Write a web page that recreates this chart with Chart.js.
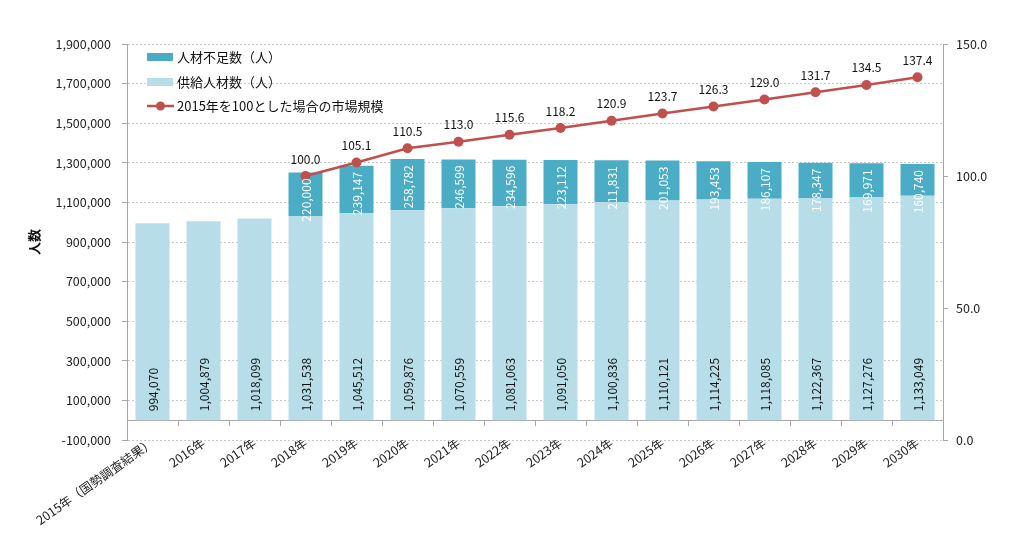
<!DOCTYPE html>
<html>
<head>
<meta charset="utf-8">
<script src="https://cdn.jsdelivr.net/npm/chart.js@4/dist/chart.umd.min.js"></script>
<style>
    html, body { margin: 0; background: #fff; }
    #wrap { width: 1024px; height: 534px; position: relative; }
</style>
</head>
<body>
<div id="wrap"><canvas id="chart"></canvas></div>
<script>
const years = ['2015年（国勢調査結果）', '2016年', '2017年', '2018年', '2019年', '2020年', '2021年', '2022年',
    '2023年', '2024年', '2025年', '2026年', '2027年', '2028年', '2029年', '2030年'];
const supply = [994070, 1004879, 1018099, 1031538, 1045512, 1059876, 1070559, 1081063,
    1091050, 1100836, 1110121, 1114225, 1118085, 1122367, 1127276, 1133049];
const shortage = [null, null, null, 220000, 239147, 258782, 246599, 234596,
    223112, 211831, 201053, 193453, 186107, 178347, 169971, 160740];
const marketIndex = [null, null, null, 100.0, 105.1, 110.5, 113.0, 115.6,
    118.2, 120.9, 123.7, 126.3, 129.0, 131.7, 134.5, 137.4];

const FONT = '"Noto Sans CJK JP", "Noto Sans", sans-serif';
const TEAL = '#4BACC6';
const LIGHT = '#B7DEE8';
const RED = '#C0504D';

const fmt = v => v.toLocaleString('en-US');

// value labels, zero line, category ticks, legend
const decorate = {
    id: 'decorate',
    beforeDatasetsDraw(chart) {
        const { ctx, chartArea, scales } = chart;
        const y0 = scales.y.getPixelForValue(0);
        const step = (chartArea.right - chartArea.left) / years.length;
        ctx.save();
        ctx.strokeStyle = '#a6a6a6';
        ctx.lineWidth = 1;
        ctx.beginPath();
        ctx.moveTo(chartArea.left, Math.round(y0) + 0.5);
        ctx.lineTo(chartArea.right, Math.round(y0) + 0.5);
        for (let k = 1; k < years.length; k++) {
            const x = Math.round(chartArea.left + k * step) + 0.5;
            ctx.moveTo(x, Math.round(y0));
            ctx.lineTo(x, Math.round(y0) + 6);
        }
        ctx.stroke();
        ctx.restore();
    },
    afterDatasetsDraw(chart) {
        const { ctx, chartArea } = chart;
        ctx.save();
        ctx.font = '12px ' + FONT;
        ctx.textBaseline = 'middle';

        const supMeta = chart.getDatasetMeta(0);
        supMeta.data.forEach((bar, i) => {
            ctx.save();
            ctx.translate(bar.x, bar.base - 9);
            ctx.rotate(-Math.PI / 2);
            ctx.fillStyle = '#111';
            ctx.textAlign = 'left';
            ctx.fillText(fmt(supply[i]), 0, 1);
            ctx.restore();
        });

        const shMeta = chart.getDatasetMeta(1);
        shMeta.data.forEach((bar, i) => {
            if (shortage[i] == null) return;
            ctx.save();
            ctx.translate(bar.x, bar.y + 6);
            ctx.rotate(-Math.PI / 2);
            ctx.fillStyle = '#fff';
            ctx.textAlign = 'right';
            ctx.fillText(fmt(shortage[i]), 0, 1);
            ctx.restore();
        });

        const lineMeta = chart.getDatasetMeta(2);
        ctx.fillStyle = '#111';
        ctx.textAlign = 'center';
        ctx.textBaseline = 'bottom';
        lineMeta.data.forEach((pt, i) => {
            if (marketIndex[i] == null) return;
            ctx.fillText(marketIndex[i].toFixed(1), pt.x, pt.y - 11);
        });

        // legend
        const lx = chartArea.left + 20;
        const rows = [chartArea.top + 13, chartArea.top + 38, chartArea.top + 62];
        ctx.font = '13px ' + FONT;
        ctx.textAlign = 'left';
        ctx.textBaseline = 'middle';
        ctx.fillStyle = TEAL;
        ctx.fillRect(lx, rows[0] - 4, 26, 8);
        ctx.fillStyle = LIGHT;
        ctx.fillRect(lx, rows[1] - 4, 26, 8);
        ctx.strokeStyle = RED;
        ctx.lineWidth = 2.5;
        ctx.beginPath();
        ctx.moveTo(lx, rows[2]);
        ctx.lineTo(lx + 27, rows[2]);
        ctx.stroke();
        ctx.fillStyle = RED;
        ctx.beginPath();
        ctx.arc(lx + 13.5, rows[2], 4.5, 0, Math.PI * 2);
        ctx.fill();
        ctx.fillStyle = '#111';
        ctx.fillText('人材不足数（人）', lx + 30, rows[0]);
        ctx.fillText('供給人材数（人）', lx + 30, rows[1]);
        ctx.fillText('2015年を100とした場合の市場規模', lx + 30, rows[2]);
        ctx.restore();
    }
};

new Chart(document.getElementById('chart'), {
    type: 'bar',
    data: {
        labels: years,
        datasets: [
            {
                label: '供給人材数（人）',
                data: supply,
                backgroundColor: LIGHT,
                stack: 's',
                order: 1,
                barPercentage: 0.667,
                categoryPercentage: 1
            },
            {
                label: '人材不足数（人）',
                data: shortage,
                backgroundColor: TEAL,
                stack: 's',
                order: 2,
                barPercentage: 0.667,
                categoryPercentage: 1
            },
            {
                type: 'line',
                label: '2015年を100とした場合の市場規模',
                data: marketIndex,
                yAxisID: 'y2',
                borderColor: RED,
                backgroundColor: RED,
                borderWidth: 2.5,
                pointRadius: 5,
                pointBackgroundColor: RED,
                pointBorderWidth: 0,
                order: 0
            }
        ]
    },
    options: {
        responsive: true,
        maintainAspectRatio: false,
        animation: false,
        layout: { padding: { top: 44, left: 0, right: 0, bottom: 0 } },
        plugins: {
            legend: { display: false },
            tooltip: { enabled: false }
        },
        scales: {
            x: {
                stacked: true,
                grid: { display: false },
                border: { display: false },
                ticks: {
                    font: { family: FONT, size: 12.5 },
                    color: '#222',
                    minRotation: 35,
                    maxRotation: 35,
                    autoSkip: false,
                    padding: -13
                },
                afterFit(scale) { scale.height = 94; }
            },
            y: {
                stacked: true,
                min: -100000,
                max: 1900000,
                ticks: {
                    stepSize: 200000,
                    font: { family: FONT, size: 12.5 },
                    color: '#222',
                    padding: 11,
                    callback: v => fmt(v)
                },
                grid: { color: '#c8c8c8', tickColor: '#a6a6a6', tickLength: 5 },
                border: { color: '#a6a6a6', dash: [2, 2] },
                title: {
                    display: true,
                    text: '人数',
                    font: { family: FONT, size: 13, weight: 'bold' },
                    color: '#111',
                    padding: { top: 26, bottom: 0 }
                },
                afterFit(scale) { scale.width = 127; }
            },
            y2: {
                position: 'right',
                min: 0,
                max: 150,
                ticks: {
                    stepSize: 50,
                    font: { family: FONT, size: 12.5 },
                    color: '#222',
                    padding: 8,
                    callback: v => v.toFixed(1)
                },
                grid: { drawOnChartArea: false, tickColor: '#a6a6a6', tickLength: 5 },
                border: { color: '#a6a6a6' },
                afterFit(scale) { scale.width = 81; }
            }
        }
    },
    plugins: [decorate]
});
</script>
</body>
</html>
